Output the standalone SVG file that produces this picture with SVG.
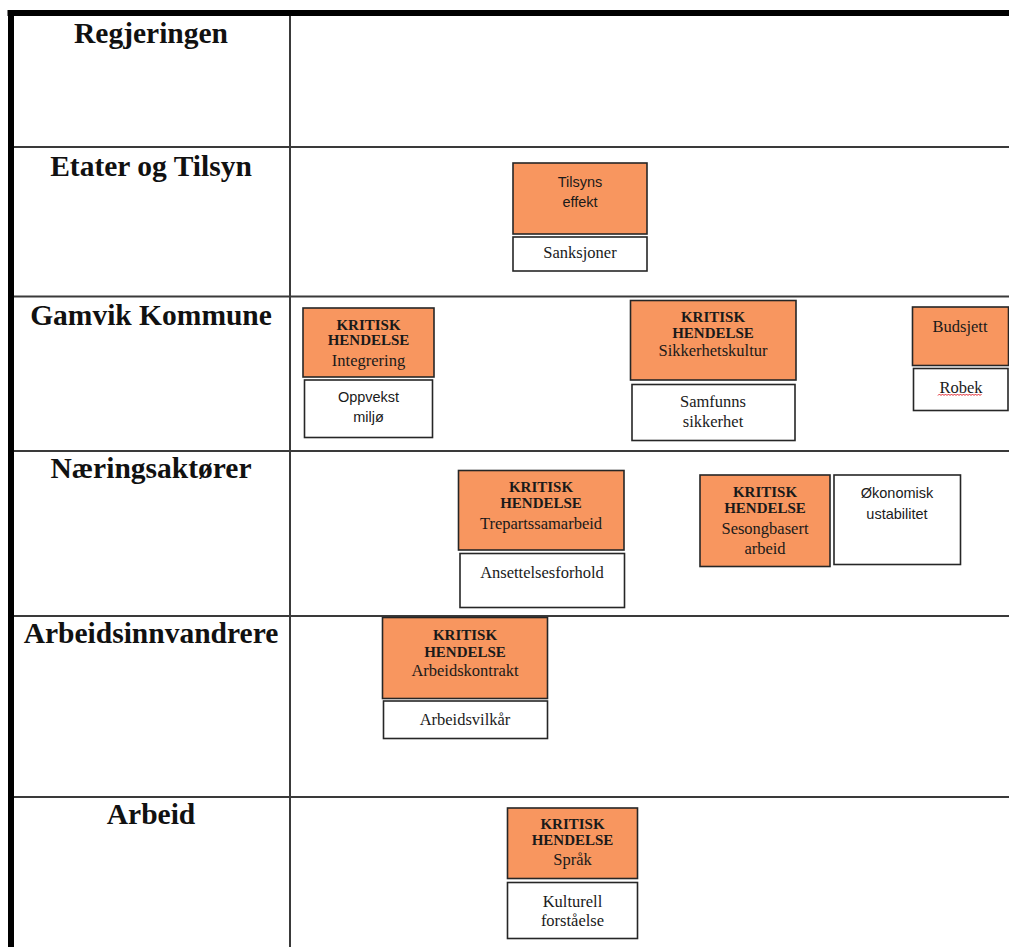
<svg xmlns="http://www.w3.org/2000/svg" width="1009" height="947" viewBox="0 0 1009 947">
  <style>
    .rowlbl { font-family: "Liberation Serif", "Times New Roman", serif; font-weight: bold; font-size: 29.5px; fill: #111; text-anchor: middle; }
    .rule { stroke: #3a3a3a; stroke-width: 2; fill: none; }
    .frame { stroke: #000; fill: none; }
    .hot { fill: #F8965F; stroke: #262626; stroke-width: 1.6; }
    .plain { fill: #ffffff; stroke: #262626; stroke-width: 1.6; }
    .kr { font-family: "Liberation Serif", "Times New Roman", serif; font-weight: bold; font-size: 15px; fill: #1a1a1a; text-anchor: middle; }
    .sr { font-family: "Liberation Serif", "Times New Roman", serif; font-size: 16.5px; fill: #1a1a1a; text-anchor: middle; }
    .ss { font-family: "Liberation Sans", Arial, sans-serif; font-size: 14.5px; fill: #1a1a1a; text-anchor: middle; }
  </style>

  <rect width="1009" height="947" fill="#ffffff"/>

  <!-- table grid -->
  <g id="grid">
    <line class="rule" x1="290" y1="16" x2="290" y2="947" stroke-width="1.6"/>
    <line class="rule" x1="14" y1="147" x2="1009" y2="147"/>
    <line class="rule" x1="14" y1="296.5" x2="1009" y2="296.5"/>
    <line class="rule" x1="14" y1="451" x2="1009" y2="451"/>
    <line class="rule" x1="14" y1="616" x2="1009" y2="616"/>
    <line class="rule" x1="14" y1="797" x2="1009" y2="797"/>
    <line class="frame" x1="7.5" y1="13" x2="1009" y2="13" stroke-width="6"/>
    <line class="frame" x1="11" y1="10" x2="11" y2="947" stroke-width="6"/>
  </g>

  <!-- row headings -->
  <g id="row-labels">
    <text class="rowlbl" x="151" y="43">Regjeringen</text>
    <text class="rowlbl" x="151" y="176">Etater og Tilsyn</text>
    <text class="rowlbl" x="151" y="325">Gamvik Kommune</text>
    <text class="rowlbl" x="151" y="478">Næringsaktører</text>
    <text class="rowlbl" x="151" y="643">Arbeidsinnvandrere</text>
    <text class="rowlbl" x="151" y="824">Arbeid</text>
  </g>

  <!-- Etater og Tilsyn -->
  <g id="tilsynseffekt">
    <rect class="hot" x="513" y="163" width="134" height="71"/>
    <text class="ss" x="580" y="187">Tilsyns</text>
    <text class="ss" x="580" y="207">effekt</text>
  </g>
  <g id="sanksjoner">
    <rect class="plain" x="513" y="237" width="134" height="34"/>
    <text class="sr" x="580" y="258">Sanksjoner</text>
  </g>

  <!-- Gamvik Kommune -->
  <g id="integrering">
    <rect class="hot" x="303" y="308" width="131" height="69"/>
    <text class="kr" x="368.5" y="330">KRITISK</text>
    <text class="kr" x="368.5" y="345">HENDELSE</text>
    <text class="sr" x="368.5" y="366">Integrering</text>
  </g>
  <g id="oppvekstmiljo">
    <rect class="plain" x="304.5" y="380" width="128" height="57.5"/>
    <text class="ss" x="368.5" y="402">Oppvekst</text>
    <text class="ss" x="368.5" y="422">miljø</text>
  </g>
  <g id="sikkerhetskultur">
    <rect class="hot" x="630.5" y="300.5" width="165.5" height="79.5"/>
    <text class="kr" x="713" y="322">KRITISK</text>
    <text class="kr" x="713" y="338">HENDELSE</text>
    <text class="sr" x="713" y="356">Sikkerhetskultur</text>
  </g>
  <g id="samfunnssikkerhet">
    <rect class="plain" x="632" y="384.5" width="163" height="56"/>
    <text class="sr" x="713" y="407">Samfunns</text>
    <text class="sr" x="713" y="427">sikkerhet</text>
  </g>
  <g id="budsjett">
    <rect class="hot" x="912.5" y="307" width="96" height="58.5"/>
    <text class="sr" x="960" y="332">Budsjett</text>
  </g>
  <g id="robek">
    <rect class="plain" x="913.5" y="368.5" width="94.5" height="42"/>
    <text class="sr" x="961" y="393">Robek</text>
    <path d="M938 395.5 l1.5 -1.5 l1.5 1.5 l1.5 -1.5 l1.5 1.5 l1.5 -1.5 l1.5 1.5 l1.5 -1.5 l1.5 1.5 l1.5 -1.5 l1.5 1.5 l1.5 -1.5 l1.5 1.5 l1.5 -1.5 l1.5 1.5 l1.5 -1.5 l1.5 1.5 l1.5 -1.5 l1.5 1.5 l1.5 -1.5 l1.5 1.5 l1.5 -1.5 l1.5 1.5 l1.5 -1.5 l1.5 1.5 l1.5 -1.5 l1.5 1.5 l1.5 -1.5 l1.5 1.5 l1.5 -1.5" fill="none" stroke="#e0202a" stroke-width="1"/>
  </g>

  <!-- Næringsaktører -->
  <g id="trepartssamarbeid">
    <rect class="hot" x="458.5" y="470.5" width="165.5" height="79.5"/>
    <text class="kr" x="541" y="492">KRITISK</text>
    <text class="kr" x="541" y="508">HENDELSE</text>
    <text class="sr" x="541" y="529">Trepartssamarbeid</text>
  </g>
  <g id="ansettelsesforhold">
    <rect class="plain" x="460" y="553.5" width="164.5" height="54"/>
    <text class="sr" x="542" y="578">Ansettelsesforhold</text>
  </g>
  <g id="sesongbasert">
    <rect class="hot" x="700" y="475" width="130" height="91.5"/>
    <text class="kr" x="765" y="497">KRITISK</text>
    <text class="kr" x="765" y="513">HENDELSE</text>
    <text class="sr" x="765" y="534">Sesongbasert</text>
    <text class="sr" x="765" y="553.5">arbeid</text>
  </g>
  <g id="okonomisk">
    <rect class="plain" x="834" y="475" width="126.5" height="89.5"/>
    <text class="ss" x="897" y="498">Økonomisk</text>
    <text class="ss" x="897" y="519">ustabilitet</text>
  </g>

  <!-- Arbeidsinnvandrere -->
  <g id="arbeidskontrakt">
    <rect class="hot" x="382.5" y="617.5" width="165" height="81"/>
    <text class="kr" x="465" y="640">KRITISK</text>
    <text class="kr" x="465" y="656.5">HENDELSE</text>
    <text class="sr" x="465" y="676">Arbeidskontrakt</text>
  </g>
  <g id="arbeidsvilkar">
    <rect class="plain" x="383.5" y="701" width="164" height="37.5"/>
    <text class="sr" x="465" y="725">Arbeidsvilkår</text>
  </g>

  <!-- Arbeid -->
  <g id="sprak">
    <rect class="hot" x="507.5" y="808" width="130" height="70.5"/>
    <text class="kr" x="572.5" y="829">KRITISK</text>
    <text class="kr" x="572.5" y="844.5">HENDELSE</text>
    <text class="sr" x="572.5" y="864.5">Språk</text>
  </g>
  <g id="kulturellforstaelse">
    <rect class="plain" x="507.5" y="882.5" width="130" height="56"/>
    <text class="sr" x="572.5" y="906.5">Kulturell</text>
    <text class="sr" x="572.5" y="926">forståelse</text>
  </g>
</svg>
